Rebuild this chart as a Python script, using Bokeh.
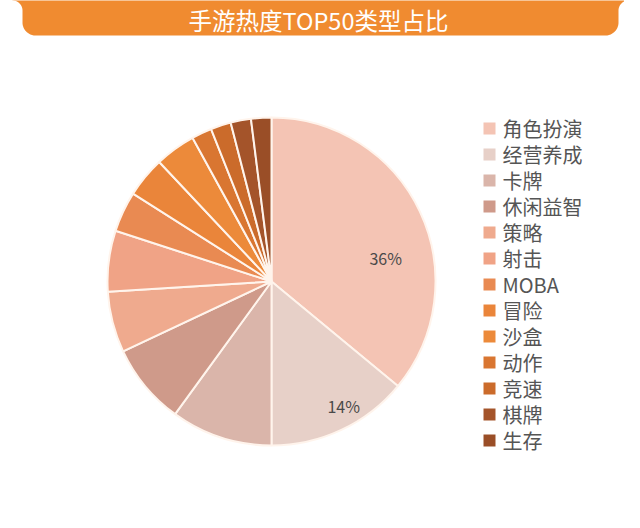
import numpy as np
from bokeh.plotting import figure
from bokeh.models import Range1d, ColumnDataSource
from bokeh.core.properties import value
from bokeh.embed import file_html
from bokeh.resources import INLINE

# ---- data ----
title = "手游热度TOP50类型占比"
categories = ["角色扮演", "经营养成", "卡牌", "休闲益智", "策略", "射击", "MOBA",
              "冒险", "沙盒", "动作", "竞速", "棋牌", "生存"]
shares = [36, 14, 10, 8, 6, 6, 4, 4, 4, 2, 2, 2, 2]
colors = ["#F4C4B4", "#E7D0C8", "#DAB5AA", "#CF9A8A", "#EFAA8E", "#F0A386", "#E98A52",
          "#EA853A", "#EC8A3A", "#D97631", "#CB6B2B", "#A4542A", "#9A4E27"]
shown_labels = {"角色扮演": "36%", "经营养成": "14%"}

W, H = 624, 512
def X(v): return np.asarray(v, dtype=float)
def Y(v): return H - np.asarray(v, dtype=float)

p = figure(width=W, height=H, output_backend="svg", toolbar_location=None,
           x_range=Range1d(0, W), y_range=Range1d(0, H), min_border=0,
           outline_line_color=None, background_fill_color="white",
           border_fill_color="white")
p.axis.visible = False
p.grid.visible = False

# ---- banner ----
def arc(cx, cy, r, t0, t1, n=24):
    t = np.radians(np.linspace(t0, t1, n))
    return cx + r * np.cos(t), cy + r * np.sin(t)

pts_x, pts_y = [12.0], [-6.0]
for seg in [arc(12, 10, 10, -90, 0), arc(35, 22, 13, 180, 90),
            arc(605, 22, 13, 90, 0), arc(628, 10, 10, 180, 270)]:
    pts_x += list(seg[0]); pts_y += list(seg[1])
pts_x += [628.0]; pts_y += [-6.0]
p.patch(X(pts_x), Y(pts_y), fill_color="#F08B30", line_color=None)
p.text(x=[318.0], y=[float(Y(19))], text=[title], text_font=value("Noto Sans CJK SC"),
       text_font_size="23.5px", text_color="white", text_align="center",
       text_baseline="middle")

# ---- pie ----
cx, cy, R = 271.0, float(Y(281)), 164.0
frac = np.array(shares, dtype=float) / sum(shares)
cum = np.concatenate([[0], np.cumsum(frac)])
start = np.pi / 2 - 2 * np.pi * cum[:-1]
end = np.pi / 2 - 2 * np.pi * cum[1:]
src = ColumnDataSource(dict(start=start, end=end, color=colors, cat=categories))
p.wedge(x=cx, y=cy, radius=R, start_angle="start", end_angle="end",
        direction="clock", fill_color="color", line_color="#FFF4EC",
        line_width=2, source=src)

# label placement (angle clockwise from top in degrees, radius fraction)
label_pos = {"角色扮演": (78.6, 0.71), "经营养成": (150.0, 0.88)}
lx, ly, lt = [], [], []
for cat in categories:
    if cat in shown_labels:
        a, rf = label_pos[cat]
        lx.append(float(cx + rf * R * np.sin(np.radians(a))))
        ly.append(float(cy + rf * R * np.cos(np.radians(a))))
        lt.append(shown_labels[cat])
p.text(x=lx, y=ly, text=lt, text_font=value("Noto Sans CJK SC"),
       text_font_size="16px", text_color="#4A4A4A", text_align="center",
       text_baseline="middle")

# ---- legend ----
n = len(categories)
ly0, step = 128, 26
leg_y = list(Y(ly0 + step * np.arange(n)))
p.rect(x=[489.0] * n, y=leg_y, width=12, height=12, fill_color=colors,
       line_color=None)
p.text(x=[502.0] * n, y=leg_y, text=categories, text_font=value("Noto Sans CJK SC"),
       text_font_size="20px", text_color="#555555", text_align="left",
       text_baseline="middle")

open("out.html", "w").write(file_html(p, INLINE))
